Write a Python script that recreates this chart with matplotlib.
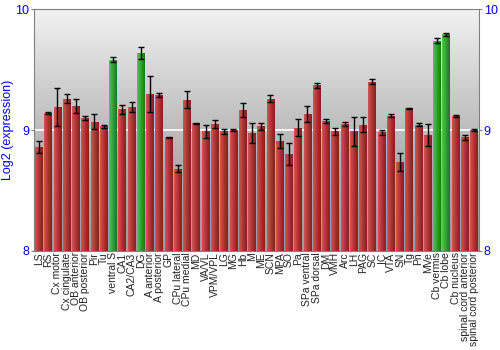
import numpy as np
import matplotlib
matplotlib.use('Agg')
import matplotlib.pyplot as plt
from matplotlib.colors import LinearSegmentedColormap

plt.rcParams['font.family'] = ['Liberation Sans', 'DejaVu Sans']

regions = ['LS', 'RS', 'Cx motor', 'Cx cingulate', 'OB anterior', 'OB posterior', 'Pir', 'Tu',
           'ventral S', 'CA1', 'CA2/CA3', 'DG', 'A anterior', 'A posterior', 'GP', 'CPu lateral',
           'CPu medial', 'MD', 'VA/VL', 'VPM/VPL', 'LG', 'MG', 'Hb', 'M', 'ME', 'SCN', 'MPA', 'SO',
           'Pa', 'SPa ventral', 'SPa dorsal', 'DM', 'VMH', 'Arc', 'LH', 'PAG', 'SC', 'IC', 'VTA',
           'SN', 'Tg', 'Pn', 'MVe', 'Cb vermis', 'Cb lobe', 'Cb nucleus', 'spinal cord anterior',
           'spinal cord posterior']
expr = [8.86, 9.14, 9.19, 9.26, 9.20, 9.10, 9.07, 9.03,
        9.58, 9.17, 9.19, 9.64, 9.30, 9.29, 8.94, 8.68,
        9.25, 9.055, 8.99, 9.05, 8.99, 9.00, 9.165, 8.975, 9.03, 9.26, 8.91, 8.80,
        9.02, 9.13, 9.37, 9.075, 8.99, 9.05, 8.99, 9.045, 9.40, 8.98, 9.12,
        8.735, 9.18, 9.045, 8.96, 9.74, 9.79, 9.115, 8.94,
        9.00]
err = [0.05, 0.01, 0.16, 0.04, 0.06, 0.02, 0.06, 0.01,
       0.02, 0.04, 0.04, 0.05, 0.15, 0.02, 0.005, 0.03,
       0.07, 0.005, 0.055, 0.03, 0.02, 0.005, 0.06, 0.08, 0.03, 0.03, 0.06, 0.09,
       0.07, 0.065, 0.02, 0.015, 0.03, 0.02, 0.12, 0.065, 0.02, 0.02, 0.01,
       0.075, 0.003, 0.01, 0.09, 0.02, 0.01, 0.01, 0.02,
       0.01]
highlight = ['ventral S', 'DG', 'Cb vermis', 'Cb lobe']

red_cm = LinearSegmentedColormap.from_list('r', ['#cc5858', '#bc4040', '#a02c2c', '#842222'])
green_cm = LinearSegmentedColormap.from_list('g', ['#58c058', '#40ac40', '#2e902e', '#207420'])
bg_cm = LinearSegmentedColormap.from_list('bg', ['#f2f2f2', '#cdcdcd', '#acacac', '#9c9c9c'])

fig = plt.figure(figsize=(5, 3.5), dpi=100)
ax = fig.add_axes([0.0686, 0.283, 0.889, 0.691])

x = np.arange(len(regions))
n = len(regions)
ax.set_xlim(-0.5, n - 0.5)
ax.set_ylim(8, 10)

# background gradient, light at top
grad = np.linspace(0, 1, 256).reshape(-1, 1)
ax.imshow(grad, cmap=bg_cm, aspect='auto', extent=[-0.5, n - 0.5, 8, 10],
          zorder=0, origin='upper')
ax.axhline(9, color='white', lw=1.2, zorder=1)

hgrad = np.linspace(0, 1, 64).reshape(1, -1)
bars = ax.bar(x, np.array(expr) - 8, bottom=8, width=0.84, color='none', zorder=2)
for b, name in zip(bars, regions):
    cm = green_cm if name in highlight else red_cm
    x0, w = b.get_x(), b.get_width()
    im = ax.imshow(hgrad, cmap=cm, aspect='auto', zorder=2,
                   extent=[x0, x0 + w, 8, b.get_y() + b.get_height()])
    im.set_clip_path(b)

ax.errorbar(x, expr, yerr=err, fmt='none', ecolor='black', elinewidth=1, capsize=2,
            capthick=1, zorder=3)

ax.set_yticks([8, 9, 10])
ax.set_yticklabels(['8', '9', '10'])
ax.tick_params(axis='y', colors='#808080', labelcolor='blue', labelsize=9,
               left=True, right=True, labelleft=True, labelright=True, length=2, pad=1.5)
ax.set_ylabel('Log2 (expression)', color='blue', fontsize=9)
ax.yaxis.set_label_coords(-0.046, 0.5)
ax.set_xticks(x)
ax.set_xticklabels(regions, rotation=90, fontsize=7.5, color='#222222')
ax.tick_params(axis='x', length=0, pad=1)
for s in ax.spines.values():
    s.set_color('#808080')

fig.savefig('out.png', dpi=100)
